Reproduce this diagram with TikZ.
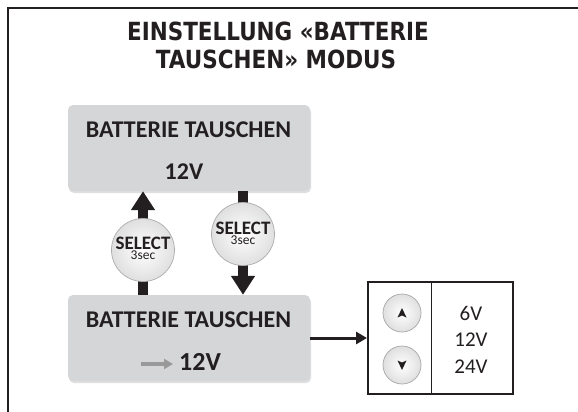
\documentclass[tikz,border=0pt]{standalone}
\usepackage{fontspec}
\usetikzlibrary{arrows.meta,shadows}
\newfontfamily\titlefont[FakeStretch=0.86]{DejaVu Sans Bold}
\newfontfamily\myfont{Carlito}
\newfontfamily\myfontb{Carlito Bold}
\definecolor{boxgray}{HTML}{D5D6D8}
\definecolor{ink}{HTML}{231F20}
\begin{document}
\begin{tikzpicture}[x=1pt,y=-1pt,
  dispbox/.style={rounded corners=5pt, fill=boxgray, draw=none, minimum width=242pt, minimum height=86pt,
     drop shadow={shadow xshift=1pt, shadow yshift=-2pt, opacity=0.25}},
  selbtn/.style={circle, minimum size=63pt, inner sep=0pt, draw=gray!65, line width=0.7pt,
     shading=radial, inner color=white, outer color=gray!25},
  updn/.style={circle, minimum size=38pt, inner sep=0pt, draw=gray!70, line width=0.7pt,
     shading=radial, inner color=white, outer color=gray!25},
  bigarrow/.style={draw=ink, line width=10pt, -{Triangle[width=23pt,length=19pt]}},
  txt/.style={anchor=base, inner sep=0pt, text=ink},
]
\useasboundingbox (0,0) rectangle (578,412);
\fill[white] (0,0) rectangle (578,412);
% frame
\draw[ink, line width=2pt] (578,8) -- (8,8) -- (8,412);
% title
\node[txt, font=\titlefont\fontsize{25}{27}\selectfont] (t1) at (278,41) {EINSTELLUNG «BATTERIE};
\node[txt, font=\titlefont\fontsize{25}{27}\selectfont] (t2) at (276,68) {TAUSCHEN» MODUS};
% boxes
\node[dispbox] (top) at (189,148) {};
\node[dispbox] (bot) at (189,338) {};
\node[txt, font=\myfontb\fontsize{24}{26}\selectfont] (toplbl) at (188.5,137) {BATTERIE TAUSCHEN};
\node[txt, font=\myfontb\fontsize{24}{26}\selectfont] (topv) at (184,179) {12V};
\node[txt, font=\myfontb\fontsize{24}{26}\selectfont] (botlbl) at (188.5,327) {BATTERIE TAUSCHEN};
\node[txt, anchor=base west, font=\myfontb\fontsize{26}{28}\selectfont] (botv) at (179,370) {12V};
\coordinate (ga) at (141,364);
\draw[gray!80, line width=3.5pt, -{Triangle[width=10pt,length=9pt]}] (ga) -- ([xshift=-6pt]botv.west |- ga);
% coordinates for arrows
\coordinate (lx) at (143,0);
\coordinate (rx) at (243,0);
\draw[bigarrow] (bot.north -| lx) -- (top.south -| lx);
\draw[bigarrow] (top.south -| rx) -- (bot.north -| rx);
% select buttons
\node[selbtn] (selL) at (143,250) {};
\node[selbtn] (selR) at (243,234) {};
\node[txt, font=\myfontb\fontsize{19}{21}\selectfont] (selLt) at (143,249) {SELECT};
\node[txt, font=\myfont\fontsize{13.5}{15}\selectfont] (selLs) at (143,259.5) {3sec};
\node[txt, font=\myfontb\fontsize{19}{21}\selectfont] (selRt) at (243,234) {SELECT};
\node[txt, font=\myfont\fontsize{13.5}{15}\selectfont] (selRs) at (243,244.5) {3sec};
% selector panel
\node[draw=ink, line width=2pt, minimum width=145pt, minimum height=112pt, inner sep=0pt] (panel) at (440.5,338) {};
\coordinate (div) at (431,0);
\draw[ink, line width=1pt] (panel.north -| div) -- (panel.south -| div);
\draw[ink, line width=3pt, -{Triangle[width=12pt,length=11pt]}] (bot.east |- panel) -- (panel.west);
\node[updn] (up) at (402,313) {};
\node[updn] (dn) at (402,365) {};
\fill[ink, shift={(up)}] (0,-5) -- (4.5,4.5) -- (0,2.5) -- (-4.5,4.5) -- cycle;
\fill[ink, shift={(dn)}] (0,5) -- (4.5,-4.5) -- (0,-2.5) -- (-4.5,-4.5) -- cycle;
\node[txt, font=\myfont\fontsize{21}{23}\selectfont] (v6) at (471,320) {6V};
\node[txt, font=\myfont\fontsize{21}{23}\selectfont] (v12) at (471,346) {12V};
\node[txt, font=\myfont\fontsize{21}{23}\selectfont] (v24) at (471,373) {24V};
\end{tikzpicture}
\end{document}
